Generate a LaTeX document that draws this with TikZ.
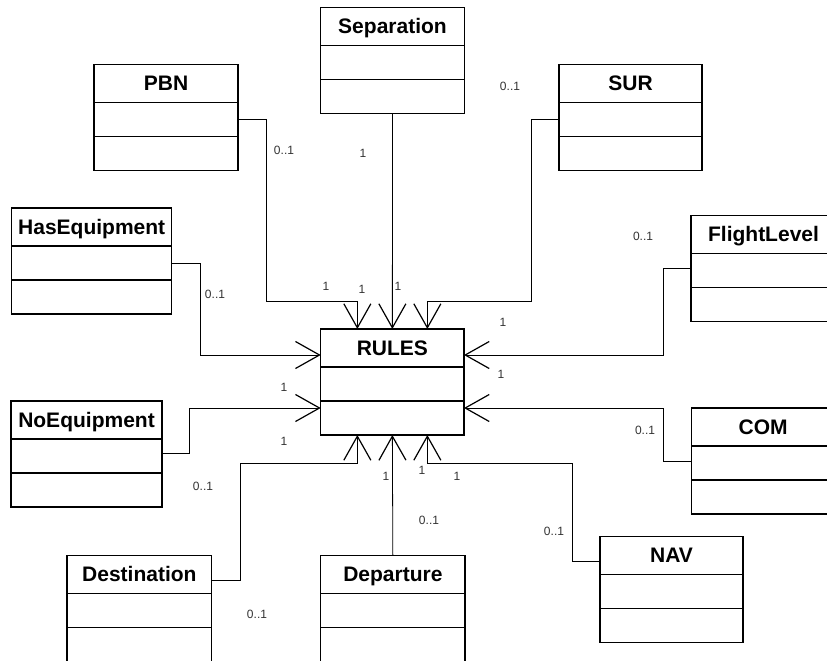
\documentclass[tikz,border=0pt]{standalone}
\usepackage{fontspec}
\setmainfont{Liberation Sans}
\usetikzlibrary{arrows.meta, positioning}

\begin{document}
\begin{tikzpicture}[x=1pt, y=-1pt,
      cls/.style={draw, line width=1.3pt, outer sep=0pt, inner sep=0pt,
        minimum height=38pt, text height=14pt, text depth=0pt,
        font=\fontsize{21}{24}\selectfont\bfseries},
      part/.style={draw, line width=1.3pt, outer sep=0pt, minimum height=34pt},
      assoc/.style={line width=0.8pt,
        -{Straight Barb[length=24pt, width=27pt, line width=1.2pt 0]}},
      mult/.style={inner sep=0pt, text=black!80, font=\fontsize{12}{14}\selectfont}]
    \path[use as bounding box, fill=white] (0,0) rectangle (827,661);
    \clip (0,0) rectangle (827,661);
    % class boxes: name / left / top / width
    \foreach \n/\x/\y/\w in {Separation/320.5/7.3/144pt, PBN/94/64.7/144pt,
        SUR/559/64.7/143pt, HasEquipment/11.7/208/160pt, FlightLevel/691/215.7/145pt,
        RULES/320.7/329/143.3pt, NoEquipment/11/401/151pt, COM/691.7/408/143pt,
        NAV/600/536.7/143pt, Destination/67/555.7/144.7pt, Departure/320.7/555.7/144.3pt} {
      \node[cls, minimum width=\w, anchor=north west] (\n) at (\x,\y) {\n};
      \node[part, minimum width=\w, below=0pt of \n] (\n-a) {};
      \node[part, minimum width=\w, below=0pt of \n-a] (\n-o) {};
    }
    % associations into RULES
    \draw[assoc] (Separation-o.south) -- (RULES.north);
    \draw[assoc] (PBN-a.east) -| (266,301) -| ([xshift=-35pt]RULES.north);
    \draw[assoc] (SUR-a.west) -| (531,301) -| ([xshift=35pt]RULES.north);
    \draw[assoc] (HasEquipment-a.east) -| (200,355) -- ([yshift=-7pt]RULES.west);
    \draw[assoc] ([yshift=3pt]NoEquipment-a.east) -| (189,408) -- ([yshift=10pt]RULES-o.west);
    \draw[assoc] ([yshift=2pt]FlightLevel-a.west) -| (663,355) -- ([yshift=-7pt]RULES.east);
    \draw[assoc] ([yshift=2pt]COM-a.west) -| (663,408) -- ([yshift=10pt]RULES-o.east);
    \draw[assoc] (Departure.north) -- (RULES-o.south);
    \draw[assoc] ([yshift=-6pt]Destination.east) -| (240,463) -| ([xshift=-35pt]RULES-o.south);
    \draw[assoc] ([yshift=-6pt]NAV.west) -| (572,463) -| ([xshift=35pt]RULES-o.south);
    % multiplicities
    \foreach \n/\x/\y/\t in {PBN-m/284/150/0..1, PBN-r/326/286/1,
        Separation-m/363/153/1, Separation-r/362/289/1, SUR-m/510/86/0..1, SUR-r/398/286/1,
        HasEquipment-m/215/294/0..1, HasEquipment-r/284/387/1,
        FlightLevel-m/643/236/0..1, FlightLevel-r/503/322/1,
        NoEquipment-m/203/486/0..1, NoEquipment-r/284/441/1,
        COM-m/645/430/0..1, COM-r/501/374/1,
        Destination-m/257/614/0..1, Destination-r/386/476/1,
        Departure-m/429/520/0..1, Departure-r/422/470/1,
        NAV-m/554/531/0..1, NAV-r/457/476/1} {
      \node[mult] (\n) at (\x,\y) {\t};
    }
  \end{tikzpicture}
\end{document}
